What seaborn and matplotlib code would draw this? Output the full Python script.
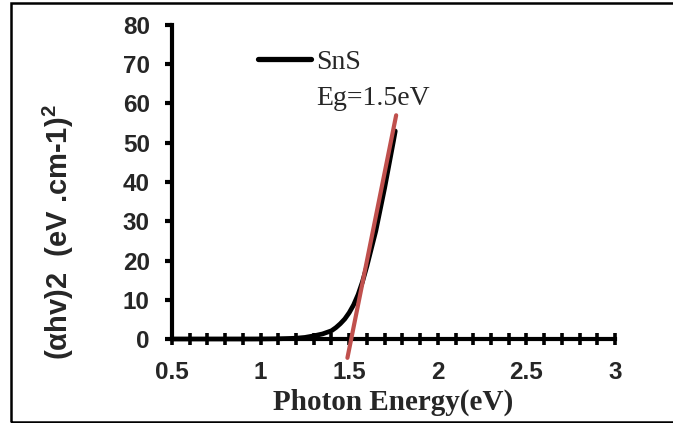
import numpy as np
import pandas as pd
import matplotlib
matplotlib.use("Agg")
import matplotlib.pyplot as plt
from matplotlib.patches import Rectangle
from matplotlib.ticker import MultipleLocator
import seaborn as sns

# ---- data ----
energy = [0.5, 0.55, 0.6, 0.65, 0.7, 0.75, 0.8, 0.85, 0.9, 0.95, 1.0, 1.05, 1.1,
          1.15, 1.2, 1.25, 1.3, 1.35, 1.4, 1.425, 1.45, 1.475, 1.5, 1.525, 1.55,
          1.575, 1.6, 1.65, 1.7, 1.75, 1.76]
ahv2 = [0, 0, 0, 0, 0, 0, 0, 0, 0, 0, 0.01, 0.03, 0.06,
        0.12, 0.2, 0.4, 0.8, 1.3, 2.1, 2.9, 3.9, 5.1, 6.7, 8.7, 11.3,
        14.6, 18.6, 27.5, 38.5, 50.5, 53.0]
fit_x = [1.49, 1.765]
fit_y = [-4.8, 57.0]
series_label = "SnS"
gap_label = "Eg=1.5eV"
x_ticks = [0.5, 1, 1.5, 2, 2.5, 3]
y_ticks = [0, 10, 20, 30, 40, 50, 60, 70, 80]

sns.set_theme(style="white")
plt.rcParams['font.family'] = ['Liberation Sans', 'DejaVu Sans']
plt.rcParams['mathtext.fontset'] = 'custom'
plt.rcParams['mathtext.rm'] = 'Liberation Sans:bold'
plt.rcParams['mathtext.bf'] = 'Liberation Sans:bold'

W, H = 673, 423
fig = plt.figure(figsize=(W / 100, H / 100), dpi=100)
fig.patch.set_facecolor('white')
ax = fig.add_axes([172 / W, (H - 339) / H, 443 / W, 314 / H])
ax.set_facecolor('white')

df = pd.DataFrame({"energy": energy, "ahv2": ahv2})
fit = pd.DataFrame({"x": fit_x, "y": fit_y})

sns.lineplot(data=df, x="energy", y="ahv2", ax=ax, color="black", linewidth=3.4,
             label=series_label, clip_on=False, zorder=3)
sns.lineplot(data=fit, x="x", y="y", ax=ax, color="#C0504D", linewidth=3.0,
             clip_on=False, zorder=4, legend=False)

ax.set_xlim(0.5, 3)
ax.set_ylim(0, 80)
ax.set_xticks(x_ticks)
ax.set_xticklabels([f"{t:g}" for t in x_ticks])
ax.set_yticks(y_ticks)
ax.xaxis.set_minor_locator(MultipleLocator(0.1))

for s in ['top', 'right']:
    ax.spines[s].set_visible(False)
for s in ['left', 'bottom']:
    ax.spines[s].set_linewidth(3.0)
    ax.spines[s].set_color('black')
    ax.spines[s].set_zorder(2)

ax.tick_params(axis='y', which='major', direction='out', length=5, width=3.0,
               pad=11, labelsize=17.5, color='black', left=True)
ax.tick_params(axis='x', which='both', direction='inout', length=9, width=2.6,
               pad=11, labelsize=17.5, color='black', bottom=True)
for lab in ax.get_xticklabels() + ax.get_yticklabels():
    lab.set_fontweight('bold')

ax.set_xlabel("Photon Energy(eV)", fontfamily=['Liberation Serif'], fontweight='bold',
              fontsize=21)
ax.xaxis.set_label_coords(0.5, -0.225)
ax.xaxis.label.set_va('baseline')

ax.set_ylabel("(\u03b1hv)2  (eV .cm-1)$^{2}$", fontweight='bold', fontsize=21)
ax.yaxis.set_label_coords(-0.216, 0.34)

leg = ax.legend(loc='center left', bbox_to_anchor=(258 / W, 1 - 62 / H),
                bbox_transform=fig.transFigure, frameon=False, handlelength=1.9,
                handletextpad=0.2, borderpad=0, borderaxespad=0,
                prop={'family': 'Liberation Serif', 'size': 20})
for line in leg.get_lines():
    line.set_linewidth(3.8)

fig.canvas.draw()
x0 = leg.get_texts()[0].get_window_extent().x0
fig.text(x0 / W, 1 - 105 / H, gap_label, fontfamily='Liberation Serif', fontsize=20,
         va='baseline', ha='left')

fig.add_artist(Rectangle((10.5 / W, 1.5 / H), 1.0, (419.5 - 1.5) / H,
                         transform=fig.transFigure, fill=False, edgecolor='black',
                         linewidth=1.8, clip_on=False))

fig.savefig("out.png", dpi=100)
